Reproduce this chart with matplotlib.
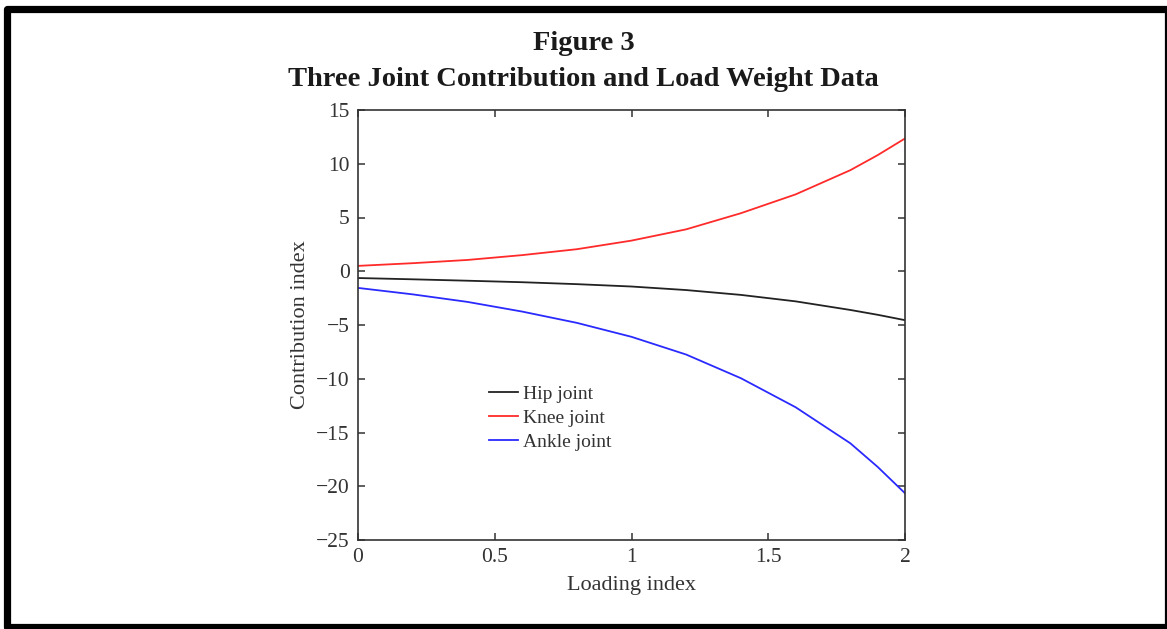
import matplotlib
matplotlib.use("Agg")
import matplotlib.pyplot as plt
from matplotlib.patches import Rectangle

loading_index = [0.0, 0.2, 0.4, 0.6, 0.8, 1.0, 1.2, 1.4, 1.6, 1.8, 1.9, 2.0]
hip_joint = [-0.63, -0.75, -0.88, -1.02, -1.20, -1.42, -1.75, -2.20, -2.80, -3.60, -4.05, -4.55]
knee_joint = [0.50, 0.75, 1.05, 1.50, 2.05, 2.85, 3.90, 5.40, 7.15, 9.40, 10.80, 12.35]
ankle_joint = [-1.55, -2.15, -2.85, -3.75, -4.80, -6.10, -7.75, -9.95, -12.65, -16.00, -18.20, -20.65]

x_ticks = [0, 0.5, 1, 1.5, 2]
x_tick_labels = ["0", "0.5", "1", "1.5", "2"]
y_ticks = [-25, -20, -15, -10, -5, 0, 5, 10, 15]
y_tick_labels = ["\u221225", "\u221220", "\u221215", "\u221210", "\u22125", "0", "5", "10", "15"]

W, H = 1167, 629
fig = plt.figure(figsize=(W / 100, H / 100), dpi=100)
serif = ["Liberation Serif", "DejaVu Serif"]

# outer frame
frame = Rectangle((7 / W, 1 - 627 / H), (1168 - 7) / W, (627 - 9) / H,
                  transform=fig.transFigure, fill=False, joinstyle="round",
                  edgecolor="black", linewidth=5.2, clip_on=False)
fig.patches.append(frame)

fig.text(0.5, 1 - 43 / H, "Figure 3", ha="center", va="center",
         fontsize=20.5, fontweight="bold", family=serif, color="#1a1a1a")
fig.text(0.5, 1 - 79 / H, "Three Joint Contribution and Load Weight Data",
         ha="center", va="center", fontsize=20.5, fontweight="bold",
         family=serif, color="#1a1a1a")

ax = fig.add_axes([358 / W, 1 - 540 / H, (905 - 358) / W, (540 - 110) / H])
ax.plot(loading_index, hip_joint, color="#222222", lw=1.3, label="Hip joint")
ax.plot(loading_index, knee_joint, color="#ff2a2a", lw=1.3, label="Knee joint")
ax.plot(loading_index, ankle_joint, color="#2a2aff", lw=1.3, label="Ankle joint")

ax.set_xlim(0, 2)
ax.set_ylim(-25, 15)
ax.set_xticks(x_ticks)
ax.set_xticklabels(x_tick_labels)
ax.set_yticks(y_ticks)
ax.set_yticklabels(y_tick_labels)
ax.tick_params(direction="in", length=5, width=1.1, top=True, right=True,
               labelsize=15.5, colors="#333333", pad=6)
for lab in ax.get_xticklabels() + ax.get_yticklabels():
    lab.set_family(serif)
for sp in ax.spines.values():
    sp.set_color("#333333")
    sp.set_linewidth(1.2)

ax.set_xlabel("Loading index", fontsize=16, family=serif, color="#333333", labelpad=6)
ax.set_ylabel("Contribution index", fontsize=16, family=serif, color="#333333", labelpad=4)

leg = ax.legend(loc="upper left", bbox_to_anchor=(0.24, 0.36), frameon=False,
                prop={"family": serif, "size": 14}, handlelength=1.5,
                handletextpad=0.25, labelspacing=0.33, borderaxespad=0,
                borderpad=0)
for t in leg.get_texts():
    t.set_color("#333333")

fig.savefig("out.png", dpi=100, facecolor="white")
